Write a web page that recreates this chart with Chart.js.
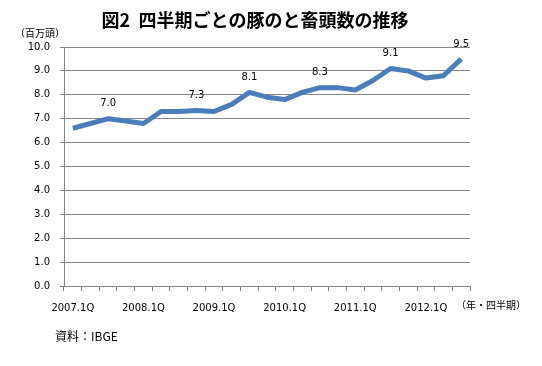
<!DOCTYPE html>
<html>
<head>
<meta charset="utf-8">
<script src="https://cdn.jsdelivr.net/npm/chart.js@4"></script>
<style>
  html, body { margin: 0; padding: 0; background: #fff; }
  #wrap { width: 542px; height: 366px; position: relative; }
</style>
</head>
<body>
<div id="wrap"><canvas id="chart"></canvas></div>
<script>
const quarters = [
    "2007.1Q", "2007.2Q", "2007.3Q", "2007.4Q",
    "2008.1Q", "2008.2Q", "2008.3Q", "2008.4Q",
    "2009.1Q", "2009.2Q", "2009.3Q", "2009.4Q",
    "2010.1Q", "2010.2Q", "2010.3Q", "2010.4Q",
    "2011.1Q", "2011.2Q", "2011.3Q", "2011.4Q",
    "2012.1Q", "2012.2Q", "2012.3Q"
];
// million head per quarter
const slaughter = [
    6.6, 6.8, 7.0, 6.9,
    6.8, 7.3, 7.3, 7.34,
    7.3, 7.6, 8.1, 7.9,
    7.8, 8.1, 8.3, 8.3,
    8.2, 8.6, 9.1, 9.0,
    8.7, 8.8, 9.5
];
// points that carry a value label (yearly peaks)
const labelledPoints = [2, 7, 10, 14, 18, 22];
const yTicks = [0, 1, 2, 3, 4, 5, 6, 7, 8, 9, 10];

const gridColor = "#868686";
const tickFont = { family: "DejaVu Sans", size: 10 };

// value labels + free texts around the plot
const extrasPlugin = {
    id: "extras",
    afterDatasetsDraw(chart) {
        const ctx = chart.ctx;
        const x = chart.scales.x;
        const y = chart.scales.y;
        ctx.save();
        ctx.fillStyle = "#000";
        ctx.textAlign = "center";
        ctx.textBaseline = "middle";
        ctx.font = "10px 'DejaVu Sans'";
        labelledPoints.forEach((i) => {
            ctx.fillText(slaughter[i].toFixed(1), x.getPixelForValue(i), y.getPixelForValue(slaughter[i]) - 15);
        });

        ctx.font = "bold 18px 'Noto Sans CJK JP'";
        ctx.fillText("図2  四半期ごとの豚のと畜頭数の推移", 255, 20);

        ctx.textAlign = "left";
        ctx.font = "10px 'Noto Sans CJK JP'";
        ctx.fillText("（百万頭）", 15, 33);
        ctx.fillText("（年・四半期）", 456, 305);

        ctx.font = "12px 'Noto Sans CJK JP'";
        ctx.fillText("資料：IBGE", 55, 336);
        ctx.restore();
    }
};

new Chart(document.getElementById("chart"), {
    type: "line",
    data: {
        labels: quarters,
        datasets: [{
            data: slaughter,
            borderColor: "#4a7ebb",
            borderWidth: 5,
            pointRadius: 0,
            tension: 0,
            borderJoinStyle: "round",
            fill: false
        }]
    },
    options: {
        responsive: true,
        maintainAspectRatio: false,
        animation: false,
        layout: { padding: { left: 10, right: 72, top: 47, bottom: 50 } },
        plugins: {
            legend: { display: false },
            tooltip: { enabled: false }
        },
        scales: {
            x: {
                offset: true,
                grid: {
                    offset: true,
                    drawOnChartArea: false,
                    drawTicks: true,
                    tickLength: 5,
                    color: gridColor
                },
                border: { color: gridColor },
                ticks: {
                    autoSkip: false,
                    maxRotation: 0,
                    padding: 11,
                    color: "#000",
                    font: tickFont,
                    callback: (v, i) => (i % 4 === 0 ? quarters[i] : "")
                },
                afterFit: (s) => { s.height = 30; }
            },
            y: {
                min: 0,
                max: 10,
                afterBuildTicks: (s) => { s.ticks = yTicks.map((v) => ({ value: v })); },
                grid: { color: gridColor, tickLength: 4 },
                border: { color: gridColor },
                ticks: {
                    padding: 10,
                    color: "#000",
                    font: tickFont,
                    callback: (v) => v.toFixed(1)
                },
                afterFit: (s) => { s.width = 54; }
            }
        }
    },
    plugins: [extrasPlugin]
});
</script>
</body>
</html>
